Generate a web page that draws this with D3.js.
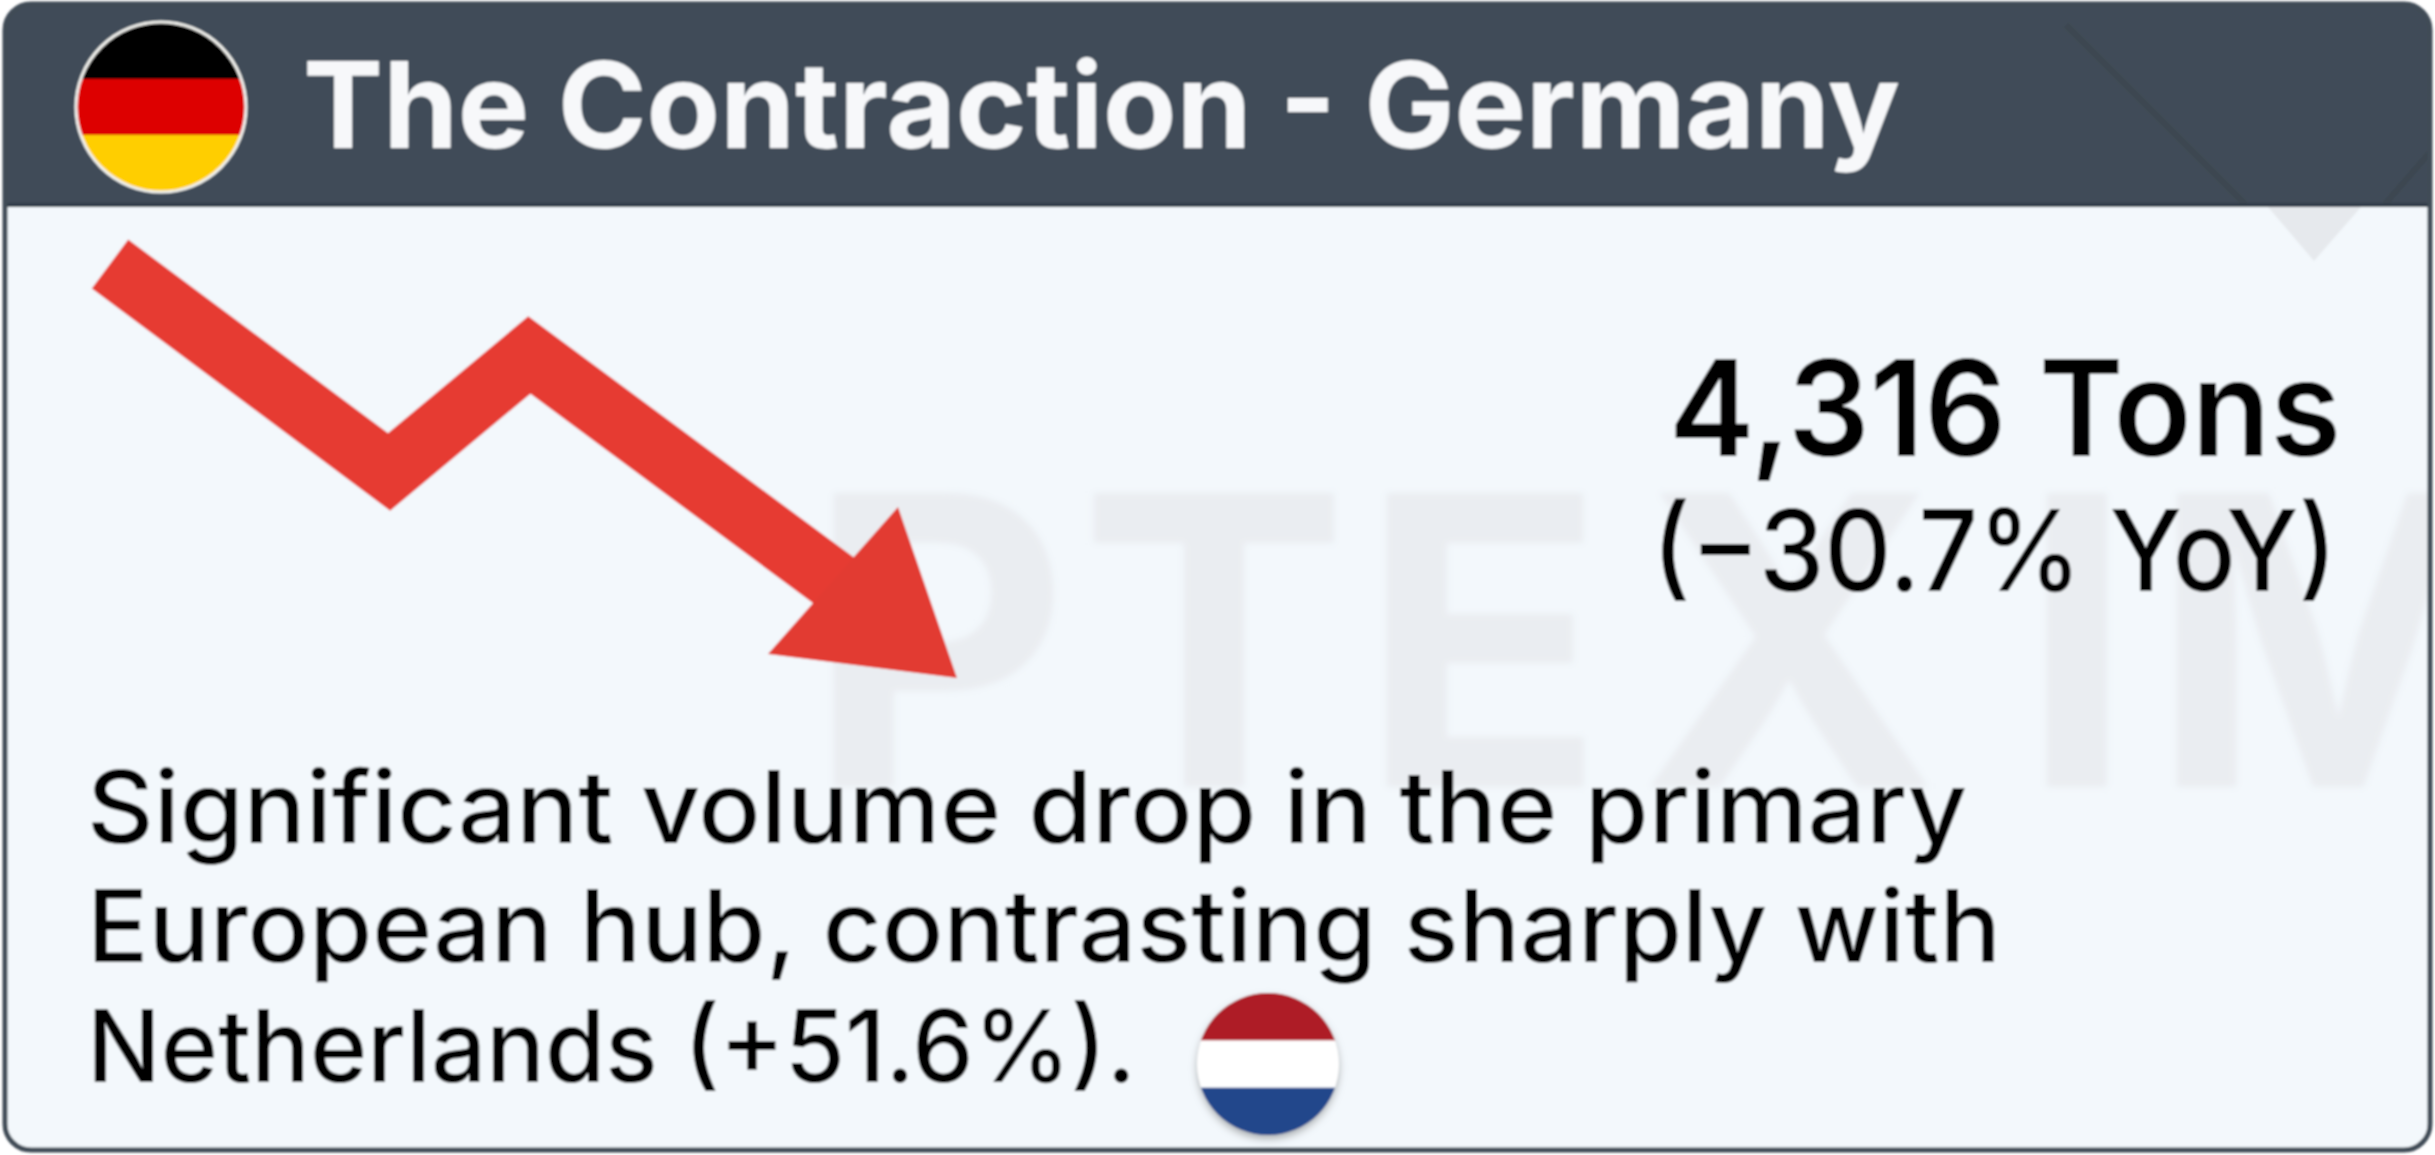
<!DOCTYPE html>
<html><head><meta charset="utf-8">
<script src="https://cdn.jsdelivr.net/npm/d3@7"></script>
<style>
html,body{margin:0;padding:0;background:#fff;overflow:hidden}
svg{display:block}
text{font-family:Inter,"Open Sans",sans-serif;}
</style></head><body>
<svg id="c" width="2435" height="1155"></svg>
<script>
const title = "The Contraction - Germany";
const valueLabel = "4,316 Tons";
const changeLabel = "(−30.7% YoY)";
const bodyLines = ["Significant volume drop in the primary","European hub, contrasting sharply with","Netherlands (+51.6%)."];
const watermark = "PTEXIM";
const trendSteps = [0, 38.6, 58, 100];
const trendValues = [100, 34.2, 71.2, 0];
const flagDE = ["#000000","#dd0000","#ffce00"];
const flagNL = ["#ae1c28","#ffffff","#21468b"];

const svg=d3.select("#c");
const defs=svg.append("defs");
const L=5,T=4,R=2430,B=1150,HB=207,RAD=26;

defs.append("clipPath").attr("id","card").append("rect").attr("x",L).attr("y",T).attr("width",R-L).attr("height",B-T).attr("rx",RAD);
defs.append("clipPath").attr("id","cde").append("circle").attr("cx",161).attr("cy",107).attr("r",84);
defs.append("clipPath").attr("id","cnl").append("circle").attr("cx",1268).attr("cy",1064).attr("r",71);
const sh=defs.append("filter").attr("id","sh").attr("x","-20%").attr("y","-20%").attr("width","140%").attr("height","140%");
sh.append("feDropShadow").attr("dx",0).attr("dy",4).attr("stdDeviation",4).attr("flood-color","#000").attr("flood-opacity",0.35);
defs.append("filter").attr("id","wm").append("feGaussianBlur").attr("stdDeviation",3);
defs.append("filter").attr("id","soft").attr("x","-2%").attr("y","-2%").attr("width","104%").attr("height","104%").append("feGaussianBlur").attr("stdDeviation",0.9);

const root=svg.append("g").attr("filter","url(#soft)");
const card=root.append("g").attr("clip-path","url(#card)");
card.append("rect").attr("x",L).attr("y",T).attr("width",R-L).attr("height",B-T).attr("fill","#f3f8fc");

// watermark
card.append("text").text(watermark)
  .attr("x","807 1079 1360 1640 2020 2150").attr("y",787)
  .attr("font-size",404).attr("font-weight",700).attr("fill","#eaedf1").attr("filter","url(#wm)");
card.append("path").attr("d",d3.line()([[2268,207],[2314,261],[2361,207]])).attr("fill","#e6e9ed");

// header
card.append("rect").attr("x",L).attr("y",T).attr("width",R-L).attr("height",HB-T).attr("fill","#414c58");
card.append("path").attr("d",d3.line()([[2066,25],[2245,204]])).attr("fill","none").attr("stroke","#3c4751").attr("stroke-width",6);
card.append("path").attr("d",d3.line()([[2385,204],[2432,150]])).attr("fill","none").attr("stroke","#3c4751").attr("stroke-width",6);
card.append("rect").attr("x",L).attr("y",HB-4).attr("width",R-L).attr("height",4).attr("fill","#333e48");
root.append("rect").attr("x",L).attr("y",T).attr("width",R-L).attr("height",B-T).attr("rx",RAD)
  .attr("fill","none").attr("stroke","#414c57").attr("stroke-width",5);

// German flag
const yDE=d3.scaleBand().domain(d3.range(flagDE.length)).range([23,191]);
const gDE=root.append("g").attr("clip-path","url(#cde)");
gDE.selectAll("rect").data(flagDE).join("rect").attr("x",70).attr("width",182)
  .attr("y",(d,i)=>yDE(i)).attr("height",yDE.bandwidth()+1).attr("fill",d=>d);
root.append("circle").attr("cx",161).attr("cy",107).attr("r",85).attr("fill","none").attr("stroke","#f4f4f0").attr("stroke-width",3);

// title
root.append("text").text(title).attr("x",303).attr("y",148).attr("font-size",119).attr("font-weight",700)
  .attr("fill","#f7f8fa").attr("textLength",1597).attr("lengthAdjust","spacingAndGlyphs");

// arrow
const xT=d3.scaleLinear().domain([0,100]).range([110,833]);
const yT=d3.scaleLinear().domain([0,100]).range([580,264]);
const pts=trendSteps.map((s,i)=>[xT(s),yT(trendValues[i])]);
const n=pts.length-1, dx=pts[n][0]-pts[n-1][0], dy=pts[n][1]-pts[n-1][1], dl=Math.hypot(dx,dy);
const linePts=pts.slice(); linePts[n]=[pts[n][0]+dx/dl*30,pts[n][1]+dy/dl*30];
root.append("path").attr("d",d3.line()(linePts)).attr("fill","none").attr("stroke","#e63a30").attr("stroke-width",61).attr("stroke-linejoin","miter").attr("stroke-miterlimit",6);
root.append("path").attr("d",d3.line()([[768,654],[898,507],[957,678]])+"Z").attr("fill","#e23a30");

// value
root.append("text").text(valueLabel).attr("x",1669).attr("y",456).attr("font-size",133).attr("font-weight",600)
  .attr("fill","#000").attr("textLength",672).attr("lengthAdjust","spacingAndGlyphs");
root.append("text").text(changeLabel).attr("x",1652).attr("y",591).attr("font-size",113).attr("font-weight",500)
  .attr("fill","#050505").attr("textLength",685).attr("lengthAdjust","spacingAndGlyphs");

// body
const bodyBase=[843,962,1082], bodyLen=[1880,1914,1049];
root.selectAll("text.b").data(bodyLines).join("text").attr("class","b").text(d=>d)
  .attr("x",87).attr("y",(d,i)=>bodyBase[i]).attr("font-size",100).attr("font-weight",500)
  .attr("fill","#000").attr("textLength",(d,i)=>bodyLen[i]).attr("lengthAdjust","spacingAndGlyphs");

// Dutch flag
const yNL=d3.scaleBand().domain(d3.range(flagNL.length)).range([993,1135]);
root.append("circle").attr("cx",1268).attr("cy",1064).attr("r",70).attr("fill","#21468b").attr("filter","url(#sh)");
const gNL=root.append("g").attr("clip-path","url(#cnl)");
gNL.selectAll("rect").data(flagNL).join("rect").attr("x",1190).attr("width",160)
  .attr("y",(d,i)=>yNL(i)).attr("height",yNL.bandwidth()+1).attr("fill",d=>d);
</script></body></html>
